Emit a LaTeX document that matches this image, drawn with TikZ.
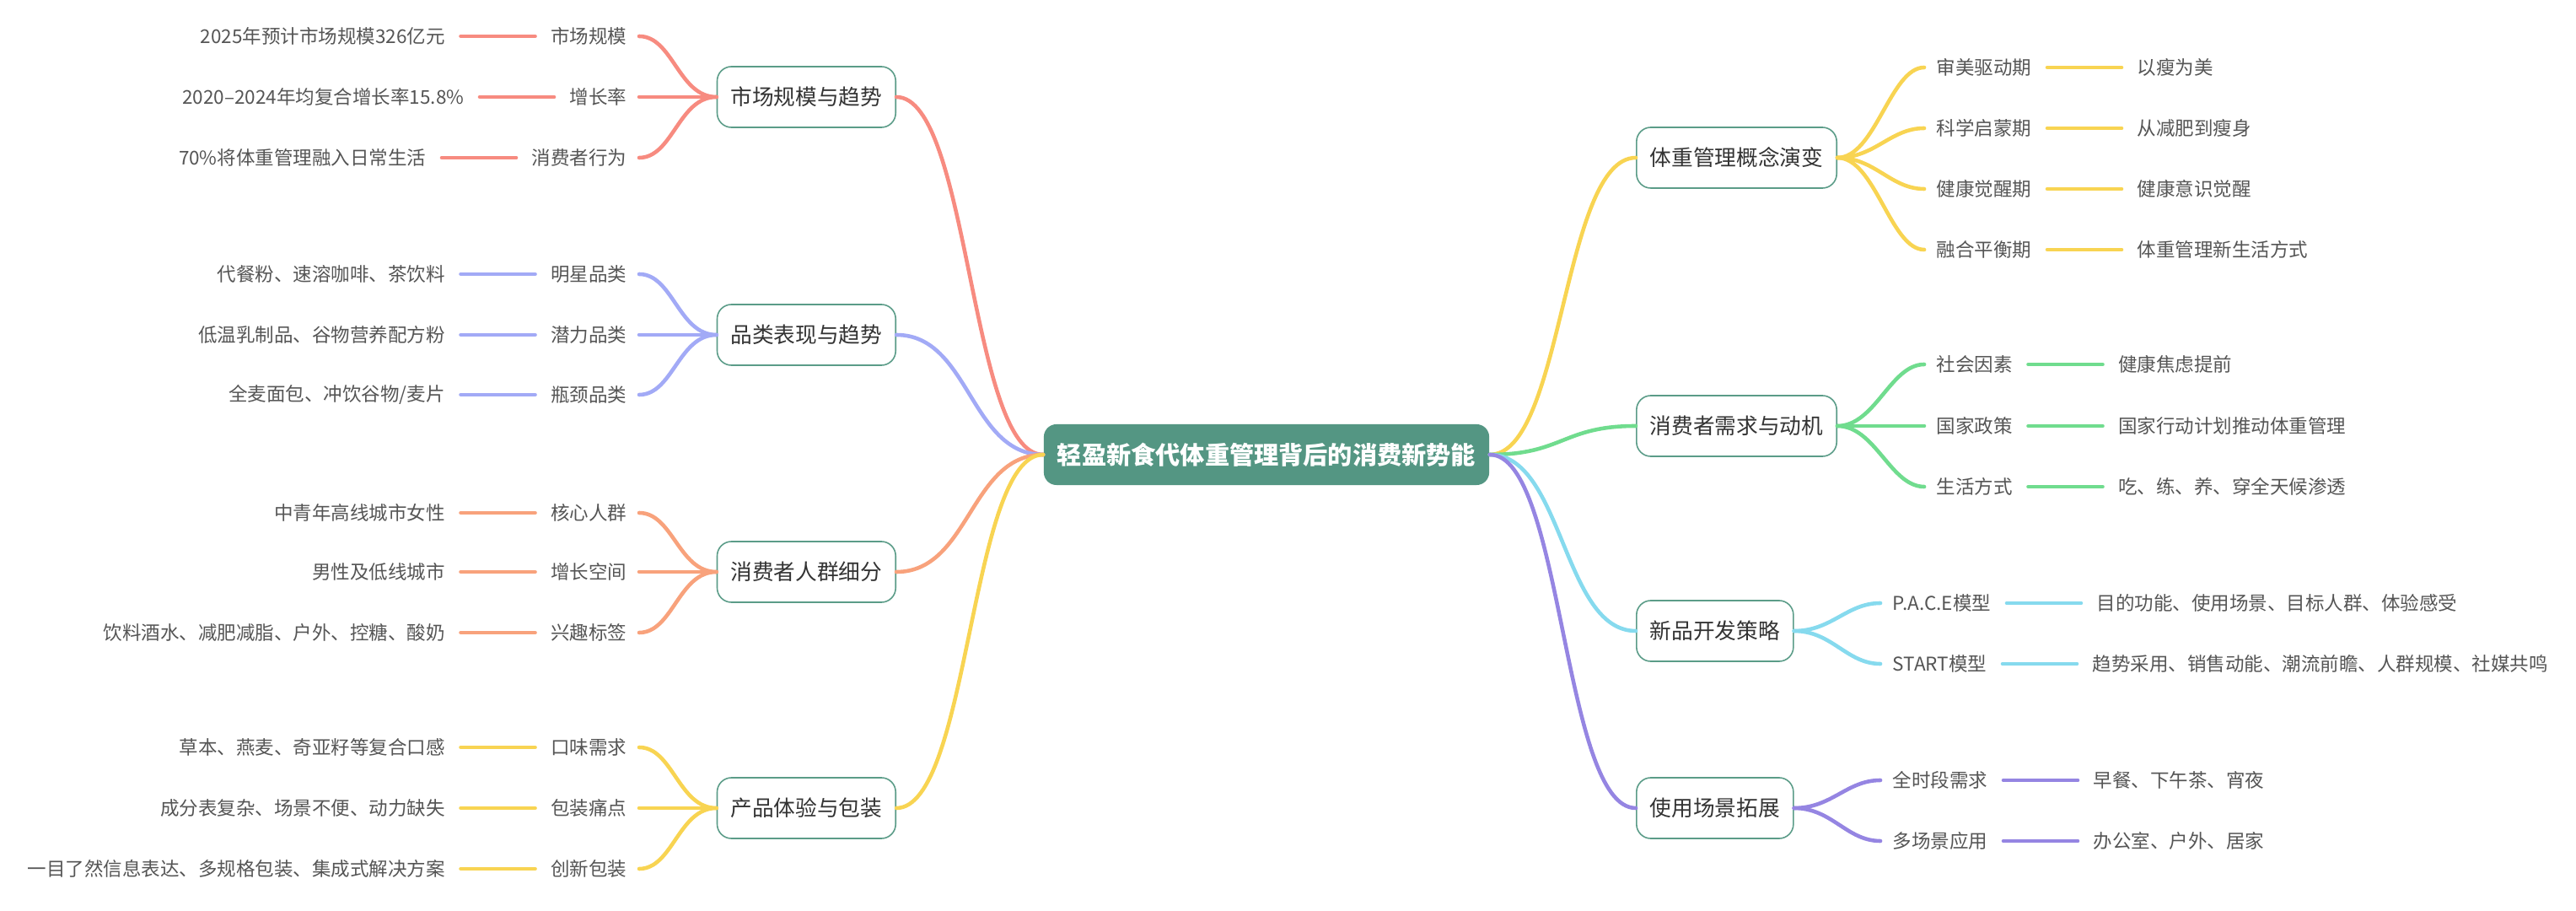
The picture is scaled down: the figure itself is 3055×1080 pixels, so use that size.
\documentclass[tikz,border=0pt]{standalone}
\usepackage{fontspec}
\setmainfont{Noto Sans CJK SC}
\definecolor{cred}{HTML}{F78B80}
\definecolor{cblue}{HTML}{A2AAF6}
\definecolor{corange}{HTML}{F8A27C}
\definecolor{cyellow}{HTML}{F8D452}
\definecolor{cgreen}{HTML}{70DC8E}
\definecolor{ccyan}{HTML}{86DAEE}
\definecolor{cpurple}{HTML}{9585E2}
\definecolor{boxc}{HTML}{5B9C88}
\definecolor{rootc}{HTML}{549683}
\definecolor{txt}{HTML}{555555}
\definecolor{txtd}{HTML}{333333}
\tikzset{
  root/.style={fill=rootc,text=white,rounded corners=0.15cm,inner xsep=0.16cm,minimum height=0.72cm,font=\bfseries\fontsize{8.3}{10}\selectfont},
  topic/.style={draw=boxc,line width=0.45pt,fill=white,text=txtd,rounded corners=0.17cm,inner xsep=0.16cm,minimum height=0.72cm,font=\fontsize{7.3}{9}\selectfont},
  sub/.style={text=txt,inner xsep=0.09cm,inner ysep=0.05cm,font=\fontsize{6.4}{8}\selectfont},
  branch/.style={line width=1.3pt,line cap=round}
}
\newcommand\mmLeftGroup[5]{%
  \node[topic,anchor=east] (#1) at (1063,#3) {#4};
  \draw[branch,#2] (c.west) .. controls +(-87,0) and +(87,0) .. (#1.east);
  \foreach \yy/\lab/\leaf [count=\k] in {#5}{
    \node[sub,anchor=east] (#1s\k) at (753,\yy) {\lab};
    \node[sub,anchor=east] (#1l\k) at ([xshift=-1.06cm]#1s\k.west) {\leaf};
    \draw[branch,#2,shorten >=0.05cm] (#1.west) .. controls +(-45,0) and +(45,0) .. (#1s\k.east);
    \draw[branch,#2,shorten <=0.09cm,shorten >=0.09cm] (#1l\k.east) -- (#1s\k.west);
  }}
\newcommand\mmRightGroup[6]{%
  \node[topic,anchor=west] (#1) at (1940,#3) {#4};
  \draw[branch,#2] (c.east) .. controls +(87,0) and +(-87,0) .. (#1.west);
  \foreach \yy/\lab/\leaf [count=\k] in {#6}{
    \node[sub,anchor=west] (#1s\k) at (#5,\yy) {\lab};
    \node[sub,anchor=west] (#1l\k) at ([xshift=1.06cm]#1s\k.east) {\leaf};
    \draw[branch,#2,shorten >=0.05cm] (#1.east) .. controls +(45,0) and +(-45,0) .. (#1s\k.west);
    \draw[branch,#2,shorten <=0.09cm,shorten >=0.09cm] (#1s\k.east) -- (#1l\k.west);
  }}
\begin{document}
\begin{tikzpicture}[x=0.01cm,y=-0.01cm]
\useasboundingbox (0,0) rectangle (3055,1080);
\node[root] (c) at (1502,539) {轻盈新食代体重管理背后的消费新势能};
\mmLeftGroup{a}{cred}{115}{市场规模与趋势}{43/市场规模/{2025年预计市场规模326亿元},115/增长率/{2020–2024年均复合增长率15.8\%},187/消费者行为/{70\%将体重管理融入日常生活}}
\mmLeftGroup{b}{cblue}{397}{品类表现与趋势}{325/明星品类/{代餐粉、速溶咖啡、茶饮料},397/潜力品类/{低温乳制品、谷物营养配方粉},468/瓶颈品类/{全麦面包、冲饮谷物/麦片}}
\mmLeftGroup{d}{corange}{678}{消费者人群细分}{608/核心人群/{中青年高线城市女性},678/增长空间/{男性及低线城市},750/兴趣标签/{饮料酒水、减肥减脂、户外、控糖、酸奶}}
\mmLeftGroup{e}{cyellow}{958}{产品体验与包装}{886/口味需求/{草本、燕麦、奇亚籽等复合口感},958/包装痛点/{成分表复杂、场景不便、动力缺失},1030/创新包装/{一目了然信息表达、多规格包装、集成式解决方案}}
\mmRightGroup{f}{cyellow}{187}{体重管理概念演变}{2287}{80/审美驱动期/{以瘦为美},152/科学启蒙期/{从减肥到瘦身},224/健康觉醒期/{健康意识觉醒},296/融合平衡期/{体重管理新生活方式}}
\mmRightGroup{g}{cgreen}{505}{消费者需求与动机}{2287}{432/社会因素/{健康焦虑提前},505/国家政策/{国家行动计划推动体重管理},577/生活方式/{吃、练、养、穿全天候渗透}}
\mmRightGroup{h}{ccyan}{748}{新品开发策略}{2235}{715/P.A.C.E模型/{目的功能、使用场景、目标人群、体验感受},787/START模型/{趋势采用、销售动能、潮流前瞻、人群规模、社媒共鸣}}
\mmRightGroup{i}{cpurple}{958}{使用场景拓展}{2235}{925/全时段需求/{早餐、下午茶、宵夜},997/多场景应用/{办公室、户外、居家}}
\end{tikzpicture}
\end{document}
